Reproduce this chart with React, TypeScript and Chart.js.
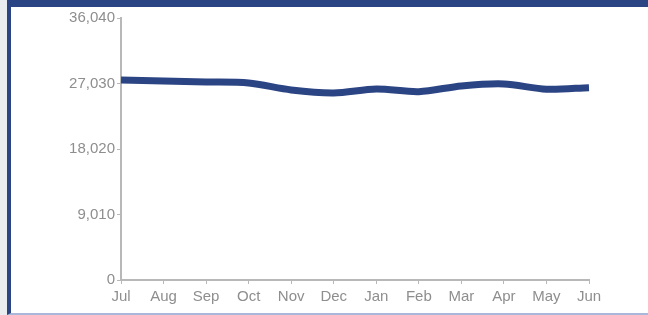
import React, { useEffect, useRef } from "react";
import { Chart, registerables } from "chart.js";

Chart.register(...registerables);

const months = ["Jul", "Aug", "Sep", "Oct", "Nov", "Dec", "Jan", "Feb", "Mar", "Apr", "May", "Jun"];
const values = [27520, 27380, 27250, 27100, 26140, 25730, 26280, 25910, 26700, 26970, 26240, 26460];
const yTicks = [0, 9010, 18020, 27030, 36040];

export default function App() {
  const ref = useRef<HTMLCanvasElement | null>(null);

  useEffect(() => {
    document.body.style.margin = "0";
    if (!ref.current) return;
    const axisColor = "#b8b8b8";
    const chart = new Chart(ref.current, {
      type: "line",
      data: {
        labels: months,
        datasets: [
          {
            data: values,
            borderColor: "#2b4483",
            borderWidth: 7,
            pointRadius: 0,
            tension: 0.3,
            fill: false,
            borderCapStyle: "butt",
          },
        ],
      },
      options: {
        animation: false,
        responsive: false,
        maintainAspectRatio: false,
        layout: { padding: { top: 11, right: 59, left: 0, bottom: 0 } },
        plugins: { legend: { display: false }, tooltip: { enabled: false }, title: { display: false } },
        scales: {
          x: {
            offset: false,
            grid: { drawOnChartArea: false, drawTicks: true, tickLength: 4, color: axisColor, offset: false },
            border: { color: axisColor, width: 2 },
            ticks: {
              color: "#8e8e8e",
              padding: 4,
              maxRotation: 0,
              autoSkip: false,
              font: { family: "'Liberation Sans', Arial, sans-serif", size: 15 },
            },
            afterFit: (s: any) => {
              s.height = 33;
            },
          },
          y: {
            min: yTicks[0],
            max: yTicks[yTicks.length - 1],
            afterBuildTicks: (s: any) => {
              s.ticks = yTicks.map((v) => ({ value: v }));
            },
            grid: { drawOnChartArea: false, drawTicks: true, tickLength: 4, color: axisColor },
            border: { color: axisColor, width: 2 },
            ticks: {
              color: "#8e8e8e",
              padding: 2,
              font: { family: "'Liberation Sans', Arial, sans-serif", size: 15 },
              callback: (v: any) => Number(v).toLocaleString("en-US"),
            },
            afterFit: (s: any) => {
              s.width = 110;
            },
          },
        },
      },
    });
    return () => chart.destroy();
  }, []);

  return (
    <div style={{ position: "absolute", left: 0, top: 0, width: 648, height: 315, background: "#e9edf0", overflow: "hidden" }}>
      <div
        style={{
          position: "absolute",
          left: 7,
          top: 0,
          width: 641,
          height: 315,
          boxSizing: "border-box",
          background: "#ffffff",
          borderLeft: "4px solid #2b4483",
          borderTop: "7px solid #2b4483",
          borderBottom: "2px solid #a9b8da",
        }}
      />
      <canvas ref={ref} width={637} height={306} style={{ position: "absolute", left: 11, top: 7, width: 637, height: 306 }} />
    </div>
  );
}
